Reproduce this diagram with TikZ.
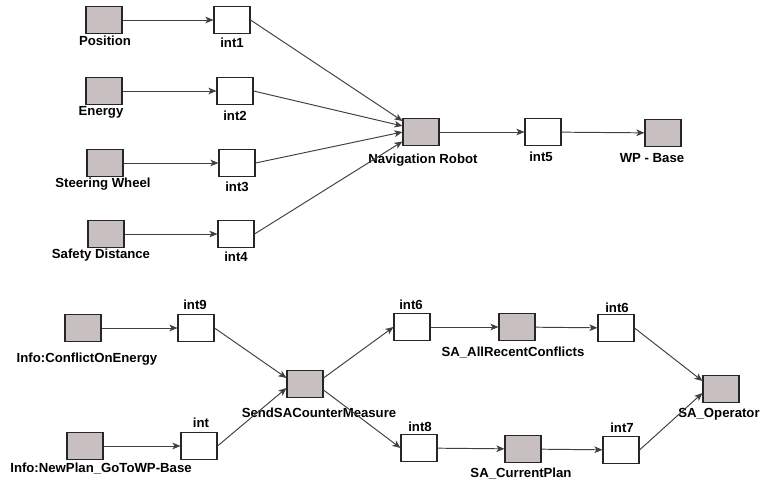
\documentclass[tikz,border=0pt]{standalone}
\usepackage{fontspec}
\setmainfont{Liberation Sans}
\usetikzlibrary{arrows.meta}
\definecolor{boxgray}{RGB}{200,192,192}
\definecolor{linegray}{RGB}{64,64,64}
\tikzset{
  block/.style={draw=black!85, fill=boxgray, line width=0.6pt,
    minimum width=0.72cm, minimum height=0.54cm, inner sep=0pt},
  port/.style={block, fill=white},
  tag/.style={font=\fontsize{7.5}{8}\selectfont\bfseries, inner sep=0pt,
    text height=5.3pt, text depth=0pt},
  flow/.style={draw=linegray, line width=0.55pt,
    -{Stealth[length=4.6pt,width=3.8pt,inset=1.2pt]}},
}
\begin{document}
\begin{tikzpicture}[x=0.02cm,y=-0.02cm]
  \useasboundingbox (0,0) rectangle (761,484);
  % upper part
  \node[block] (pos) at (104,20) {};
  \node[block] (energy) at (104,91) {};
  \node[block] (steer) at (105,163) {};
  \node[block] (safety) at (106,234) {};
  \node[port] (int1) at (232,20) {};
  \node[port] (int2) at (235,91) {};
  \node[port] (int3) at (237,163) {};
  \node[port] (int4) at (236,234) {};
  \node[block] (nav) at (421,132) {};
  \node[port] (int5) at (543,132) {};
  \node[block] (wp) at (663,133) {};
  \node[tag] (posL) at (105,41) {Position};
  \node[tag] (energyL) at (101,111) {Energy};
  \node[tag] (steerL) at (103,183) {Steering Wheel};
  \node[tag] (safetyL) at (101,254) {Safety Distance};
  \node[tag] (int1L) at (232,43) {int1};
  \node[tag] (int2L) at (235,116) {int2};
  \node[tag] (int3L) at (237,187) {int3};
  \node[tag] (int4L) at (236,257) {int4};
  \node[tag] (navL) at (423,159) {Navigation Robot};
  \node[tag] (int5L) at (541,157) {int5};
  \node[tag] (wpL) at (652,158) {WP - Base};
  % lower part
  \node[block] (conf) at (83,328) {};
  \node[block] (plan) at (85,446) {};
  \node[port] (int9) at (196,328) {};
  \node[port] (int0) at (199,446) {};
  \node[block] (send) at (305,384) {};
  \node[port] (int6) at (412,327) {};
  \node[port] (int8) at (419,448) {};
  \node[block] (recent) at (517,327) {};
  \node[block] (current) at (523,449) {};
  \node[port] (int6b) at (616,328) {};
  \node[port] (int7) at (621,450) {};
  \node[block] (oper) at (721,389) {};
  \node[tag] (confL) at (87,358) {Info:ConflictOnEnergy};
  \node[tag] (planL) at (101,468) {Info:NewPlan\_GoToWP-Base};
  \node[tag] (int9L) at (195,305) {int9};
  \node[tag] (int0L) at (201,423) {int};
  \node[tag] (sendL) at (319,413) {SendSACounterMeasure};
  \node[tag] (int6L) at (411,305) {int6};
  \node[tag] (int8L) at (420,427) {int8};
  \node[tag] (recentL) at (513,352) {SA\_AllRecentConflicts};
  \node[tag] (currentL) at (521,473) {SA\_CurrentPlan};
  \node[tag] (int6bL) at (617,308) {int6};
  \node[tag] (int7L) at (622,428) {int7};
  \node[tag] (operL) at (719,413) {SA\_Operator};
  % connectors
  \begin{scope}[flow]
    \draw (pos) -- (int1);
    \draw (energy) -- (int2);
    \draw (steer) -- (int3);
    \draw (safety) -- (int4);
    \draw (int1.east) -- ([yshift=0.22cm]nav.west);
    \draw (int2.east) -- ([yshift=0.12cm]nav.west);
    \draw (int3.east) -- (nav.west);
    \draw (int4.east) -- ([yshift=-0.19cm]nav.west);
    \draw (nav) -- (int5);
    \draw (int5) -- (wp);
    \draw (conf) -- (int9);
    \draw (plan) -- (int0);
    \draw (int9.east) -- ([yshift=0.12cm]send.west);
    \draw (int0.east) -- ([yshift=-0.08cm]send.west);
    \draw ([yshift=0.12cm]send.east) -- (int6.west);
    \draw ([yshift=-0.12cm]send.east) -- (int8.west);
    \draw (int6) -- (recent);
    \draw (recent) -- (int6b);
    \draw (int8) -- (current);
    \draw (current) -- (int7);
    \draw (int6b.east) -- ([yshift=0.16cm]oper.west);
    \draw (int7.east) -- ([yshift=-0.08cm]oper.west);
  \end{scope}
\end{tikzpicture}
\end{document}
